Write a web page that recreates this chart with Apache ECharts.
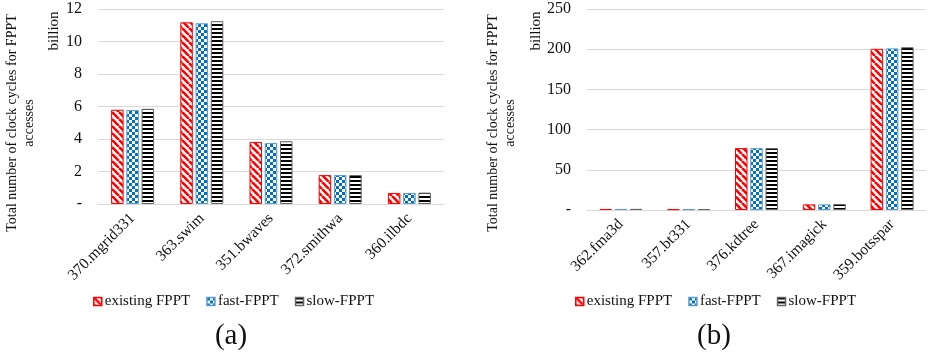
<!DOCTYPE html>
<html><head><meta charset="utf-8">
<script src="https://cdn.jsdelivr.net/npm/echarts@6/dist/echarts.min.js"></script>
<style>html,body{margin:0;padding:0;background:#fff}#c{width:928px;height:356px}</style>
</head><body><div id="c"></div>
<script>
// ---- data ----
const seriesNames = ['existing FPPT', 'fast-FPPT', 'slow-FPPT'];
const catsA = ['370.mgrid331', '363.swim', '351.bwaves', '372.smithwa', '360.ilbdc'];
const existingA = [5.8, 11.18, 3.82, 1.78, 0.68];
const fastA = [5.78, 11.12, 3.75, 1.78, 0.68];
const slowA = [5.86, 11.25, 3.86, 1.78, 0.7];
const catsB = ['362.fma3d', '357.bt331', '376.kdtree', '367.imagick', '359.botsspar'];
const existingB = [1.3, 1.0, 77, 7, 200.5];
const fastB = [1.3, 1.0, 77, 7, 201];
const slowB = [1.4, 1.1, 77, 7.5, 202.5];
const panelTitles = ['(a)', '(b)'];

// ---- patterns ----
function mk(w, h, draw) { const c = document.createElement('canvas'); c.width = w; c.height = h; const g = c.getContext('2d'); g.fillStyle = '#fff'; g.fillRect(0, 0, w, h); draw(g); return c; }
const redPat = mk(7, 7, g => { g.strokeStyle = '#ff0000'; g.lineWidth = 2.6; for (let k = -7; k <= 7; k += 7) { g.beginPath(); g.moveTo(k, 0); g.lineTo(k + 7, 7); g.stroke(); } });
const bluePat = mk(6, 6, g => { g.fillStyle = '#0070c0'; g.fillRect(0, 0, 3, 3); g.fillRect(3, 3, 3, 3); });
const blackPat = mk(4, 4, g => { g.fillStyle = '#000'; g.fillRect(0, 0, 4, 2); });
const pats = [redPat, bluePat, blackPat];
const borders = ['#ff0000', '#5b9bd5', '#666666'];

const FONT = 'Liberation Serif';
const TXT = '#111';
const chart = echarts.init(document.getElementById('c'), null, { renderer: 'canvas' });

function yAxis(gi, max, interval) {
  return {
    type: 'value', gridIndex: gi, min: 0, max: max, interval: interval,
    axisLine: { show: false }, axisTick: { show: false },
    splitLine: { lineStyle: { color: '#d9d9d9', width: 1 } },
    axisLabel: { margin: 16, fontFamily: FONT, fontSize: 16, color: TXT, formatter: v => v === 0 ? '-' : String(v) }
  };
}
function xAxis(gi, cats) {
  return {
    type: 'category', gridIndex: gi, data: cats,
    axisLine: { lineStyle: { color: '#d9d9d9' } }, axisTick: { show: false },
    axisLabel: { rotate: 45, margin: 12, fontFamily: FONT, fontSize: 15.5, color: TXT, interval: 0, hideOverlap: false }
  };
}
const dataA = [existingA, fastA, slowA];
const dataB = [existingB, fastB, slowB];
const series = [];
[dataA, dataB].forEach((ds, gi) => {
  ds.forEach((d, i) => {
    series.push({
      type: 'bar', name: seriesNames[i], xAxisIndex: gi, yAxisIndex: gi, data: d,
      barWidth: 12.5, barGap: '22%',
      itemStyle: { color: { image: pats[i], repeat: 'repeat' }, borderColor: borders[i], borderWidth: 1 }
    });
  });
});
function legend(left) {
  return {
    left: left, top: 289, itemWidth: 8, itemHeight: 8, itemGap: 16, icon: 'rect',
    textStyle: { fontFamily: FONT, fontSize: 15, color: TXT, padding: [0, 0, 0, -2] },
    data: seriesNames.map((n, i) => ({ name: n, itemStyle: { color: { image: pats[i], repeat: 'repeat' }, borderColor: borders[i], borderWidth: 1.5 } }))
  };
}
function vtext(x, y, t, size) {
  return { type: 'text', x: x, y: y, rotation: Math.PI / 2, style: { text: t, fontFamily: FONT, fontSize: size, fill: TXT, textAlign: 'center', textVerticalAlign: 'middle' } };
}
chart.setOption({
  animation: false,
  grid: [
    { left: 98, top: 9, width: 346, height: 195 },
    { left: 587, top: 9, width: 339, height: 201 }
  ],
  xAxis: [xAxis(0, catsA), xAxis(1, catsB)],
  yAxis: [yAxis(0, 12, 2), yAxis(1, 250, 50)],
  legend: [legend(88), legend(570)],
  series: series,
  graphic: [
    vtext(12, 123, 'Total number of clock cycles for FPPT', 14),
    vtext(29, 123, 'accesses', 14),
    vtext(54, 31, 'billion', 15),
    vtext(493, 123, 'Total number of clock cycles for FPPT', 14),
    vtext(510, 123, 'accesses', 14),
    vtext(536, 31, 'billion', 15),
    { type: 'text', x: 231, y: 336, style: { text: panelTitles[0], fontFamily: FONT, fontSize: 29, fill: TXT, textAlign: 'center', textVerticalAlign: 'middle' } },
    { type: 'text', x: 714, y: 336, style: { text: panelTitles[1], fontFamily: FONT, fontSize: 29, fill: TXT, textAlign: 'center', textVerticalAlign: 'middle' } }
  ]
});
</script></body></html>
